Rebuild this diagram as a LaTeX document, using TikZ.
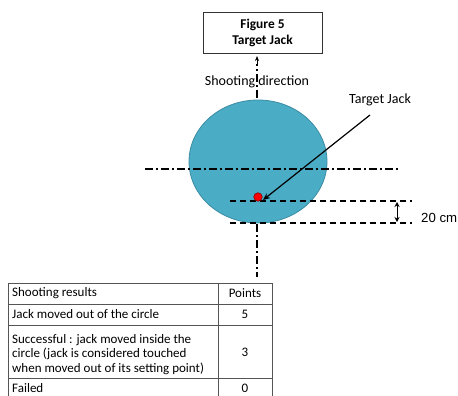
\documentclass[tikz,border=0pt]{standalone}
\usepackage{fontspec}
\setmainfont{Carlito}
\newfontfamily\arialfont{Liberation Sans}
\usetikzlibrary{arrows.meta,shapes.geometric}
\definecolor{poolblue}{HTML}{4BACC6}
\definecolor{pooledge}{HTML}{3A8CA3}
\definecolor{tabline}{HTML}{555555}
\tikzset{
  dashdot/.style={line width=1.1pt, dash pattern=on 8pt off 3pt on 2pt off 3pt},
  dashline/.style={line width=1.1pt, dash pattern=on 6pt off 4pt},
  txt/.style={font=\fontsize{14}{16}\selectfont, inner sep=0pt},
  celltxt/.style={font=\fontsize{13}{14.5}\selectfont, inner sep=0pt, anchor=west, align=left},
  cellnum/.style={font=\fontsize{13}{14.5}\selectfont, inner sep=0pt},
  tabrule/.style={draw=tabline, line width=0.7pt}
}
\begin{document}
\begin{tikzpicture}[x=1pt,y=-1pt]
\useasboundingbox (0,0) rectangle (458,396);
% title box
\node[draw=black!80, line width=0.8pt, fill=white, minimum width=119pt, minimum height=41pt, inner sep=0pt, align=center, font=\bfseries\fontsize{13.4}{16}\selectfont] (title) at (262.5,32.5) {Figure 5\\Target Jack};
% vertical axis
\coordinate (vtop) at (257,56);
\coordinate (vbot) at (257,277);
\node[ellipse, fill=poolblue, draw=pooledge, line width=0.8pt, minimum width=138pt, minimum height=123pt, inner sep=0pt] (pool) at (258,161.5) {};
\draw[dashdot] (257,98) -- (257,64);
\draw[-{Stealth[length=5pt,width=4pt]}, line width=1pt] (257,64) -- (vtop);
\draw[dashdot] (257,224) -- (vbot);
\node[txt] (shoot) at (257,82) {Shooting direction};
% horizontal dash-dot
\coordinate (hl) at (145,169);
\coordinate (hr) at (398,169);
\draw[dashdot] (hl) -- (hr);
% dashed lines
\coordinate (d1l) at (230,201);
\coordinate (d1r) at (412,201);
\coordinate (d2l) at (230,223);
\coordinate (d2r) at (412,223);
\draw[dashline] (d1l) -- (d1r);
\draw[dashline] (d2l) -- (d2r);
% jack
\node[circle, fill=red, draw=red!50!black, line width=0.6pt, minimum size=8.5pt, inner sep=0pt] (jack) at (258,197) {};
\node[txt] (tjlabel) at (380,100) {Target Jack};
\coordinate (tjstart) at (370,115);
\coordinate (tjend) at (263,200);
\draw[-{Stealth[length=7pt,width=6pt]}, line width=1.2pt] (tjstart) -- (tjend);
% 20 cm
\coordinate (m1) at (397,202);
\coordinate (m2) at (397,222);
\draw[{Stealth[length=5pt,width=5pt]}-{Stealth[length=5pt,width=5pt]}, line width=1pt] (m1) -- (m2);
\node[txt, anchor=west, font=\arialfont\fontsize{13.2}{15}\selectfont] (cm) at (421,218) {20 cm};
% table
\fill[white] (8,283) rectangle (272,400);
\draw[tabrule] (8,283) -- (272,283);
\draw[tabrule] (8,304) -- (272,304);
\draw[tabrule] (8,325) -- (272,325);
\draw[tabrule] (8,378) -- (272,378);
\draw[tabrule] (8,283) -- (8,400);
\draw[tabrule] (218,283) -- (218,400);
\draw[tabrule] (272,283) -- (272,400);
\node[celltxt] (h1) at (12,293.5) {Shooting results};
\node[cellnum] (h2) at (245,293.5) {Points};
\node[celltxt] (r1) at (12,314.5) {Jack moved out of the circle};
\node[cellnum] (r1p) at (245,314.5) {5};
\node[celltxt] (r2) at (12,354.5) {Successful : jack moved inside the\\circle (jack is considered touched\\when moved out of its setting point)};
\node[cellnum] (r2p) at (245,352) {3};
\node[celltxt] (r3) at (12,388.5) {Failed};
\node[cellnum] (r3p) at (245,388.5) {0};
\end{tikzpicture}
\end{document}
